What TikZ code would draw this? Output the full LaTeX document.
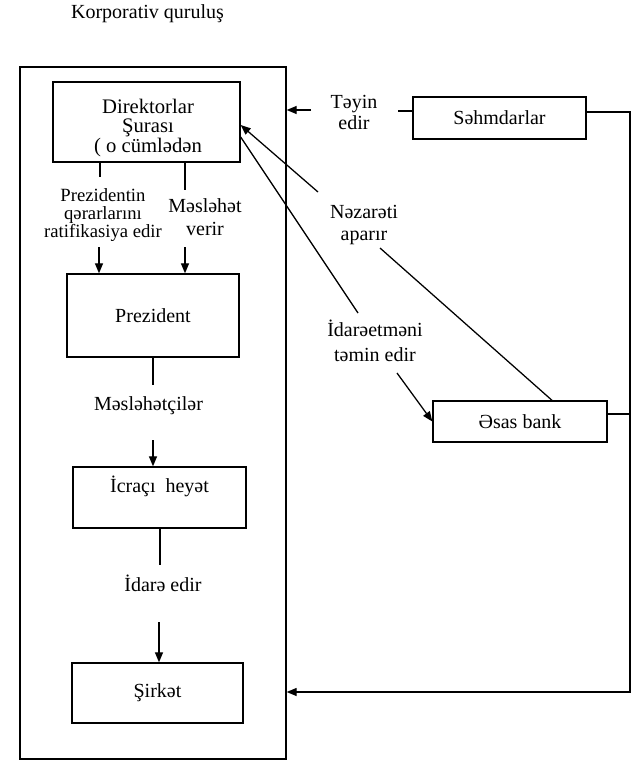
\documentclass[tikz,border=0pt]{standalone}
\usepackage{fontspec}
\setmainfont{Liberation Serif}
\usetikzlibrary{arrows.meta,calc}

\begin{document}
\begin{tikzpicture}[x=0.75pt,y=-0.75pt,
  line width=0.95pt,
  box/.style={draw, line width=1pt, inner sep=0pt,
    font=\fontsize{15}{15}\selectfont},
  lab/.style={align=center, inner sep=0pt},
  arr/.style={-{Triangle[length=7.5pt,width=6pt]}}]

\useasboundingbox (0,0) rectangle (642,763);

% heading
\node[anchor=base, font=\fontsize{15}{15}\selectfont] (title) at (147.5,18.5) {Korporativ quruluş};

% outer frame of the corporation
\node[draw, line width=1pt, minimum width=199.5pt, minimum height=519pt] (frame) at (153,413) {};

% boxes inside the frame
\node[box, minimum width=140.25pt, minimum height=60pt] (dir) at (146.5,122) {};
\node[lab, font=\fontsize{15.5}{14.8}\selectfont] (dirtxt) at (148,128)
  {Direktorlar\\ Şurası\\ ( o cümlədən};
\node[box, minimum width=129pt, minimum height=62.25pt] (prez) at (153,315.5) {Prezident};
\node[box, minimum width=129.75pt, minimum height=45.75pt] (icr) at (159.5,497.5) {};
\node[anchor=base, font=\fontsize{15}{15}\selectfont] (icrtxt) at (159.5,492) {İcraçı~ heyət};
\node[box, minimum width=128.25pt, minimum height=45pt] (sir) at (157.5,693) {Şirkət};

% boxes outside the frame
\node[box, minimum width=129.75pt, minimum height=31.5pt] (sah) at (499.5,118) {Səhmdarlar};
\node[box, minimum width=130.5pt, minimum height=30.75pt] (bank) at (520,421.5) {Əsas bank};

% connector labels
\node[lab, font=\fontsize{14}{13.4}\selectfont] (ratif) at (103,215)
  {Prezidentin\\ qərarlarını\\ ratifikasiya edir};
\node[lab, font=\fontsize{15}{17.3}\selectfont] (mesl) at (205,217) {Məsləhət\\ verir};
\node[anchor=base, font=\fontsize{15}{15}\selectfont] (mescil) at (148.5,410) {Məsləhətçilər};
\node[anchor=base, font=\fontsize{15}{15}\selectfont] (idare) at (163,591) {İdarə edir};
\node[lab, font=\fontsize{15}{15.75}\selectfont] (teyin) at (354,112) {Təyin\\ edir};
\node[lab, font=\fontsize{15}{16.5}\selectfont] (nezaret) at (364,225) {Nəzarəti\\ aparır};
\node[lab, font=\fontsize{15}{18.75}\selectfont] (idaret) at (375,341) {İdarəetməni\\ təmin edir};

% free ends of the broken connectors
\coordinate (p1) at (100,177);
\coordinate (p2) at (99,247);
\coordinate (m1) at (185,190);
\coordinate (m2) at (185,247);
\coordinate (c1) at (153,385);
\coordinate (c2) at (153,440);
\coordinate (e1) at (160,565);
\coordinate (e2) at (159,622);
\coordinate (ty) at (398,111);
\coordinate (ta) at (311,110);
\coordinate (rt) at (630,112);
\coordinate (bk) at (630,414);
\coordinate (rb) at (630,692);
\coordinate (nz1) at (380,248);
\coordinate (nz2) at (318,192);
\coordinate (id1) at (358,313);
\coordinate (id2) at (397,373);

% chain inside the frame
\draw (dir.south -| p1) -- (p1);
\draw[arr] (p2) -- (prez.north -| p2);
\draw (dir.south -| m1) -- (m1);
\draw[arr] (m2) -- (prez.north -| m2);
\draw (prez.south -| c1) -- (c1);
\draw[arr] (c2) -- (icr.north -| c2);
\draw (icr.south -| e1) -- (e1);
\draw[arr] (e2) -- (sir.north -| e2);

% shareholders
\draw (sah.west |- ty) -- (ty);
\draw[arr] (ta) -- (frame.east |- ta);
\draw[arr] (sah.east |- rt) -- (rt) -- (rb) -- (frame.east |- rb);
\draw (bank.east |- bk) -- (bk);

% main bank
\draw ($(bank.north)+(32,0)$) -- (nz1);
\draw[arr] (nz2) -- ($(dir.east)+(0,3)$);
\draw ($(dir.east)+(0,15)$) -- (id1);
\draw[arr] (id2) -- (bank.west);

\end{tikzpicture}
\end{document}
